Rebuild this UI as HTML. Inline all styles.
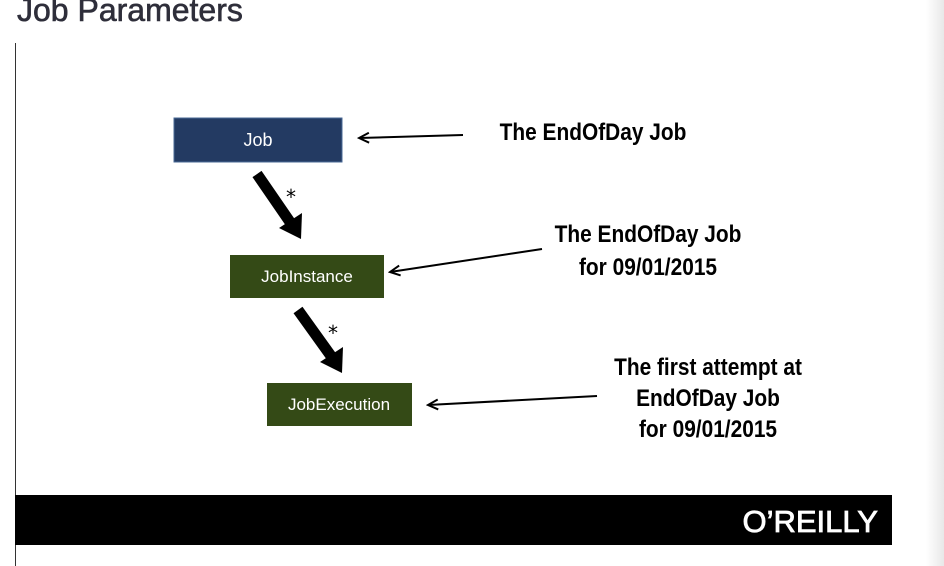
<!DOCTYPE html>
<html><head><meta charset="utf-8"><style>
html,body{margin:0;padding:0;background:#fff;width:944px;height:566px;overflow:hidden}
</style></head><body>
<svg width="944" height="566" viewBox="0 0 944 566" xmlns="http://www.w3.org/2000/svg">
<defs>
<linearGradient id="g" x1="0" x2="1"><stop offset="0" stop-color="#fff"/><stop offset="1" stop-color="#e8e8e8"/></linearGradient>
<marker id="a" markerWidth="14" markerHeight="14" refX="12" refY="7" orient="auto" markerUnits="userSpaceOnUse"><path d="M2 2 L12 7 L2 12" fill="none" stroke="#000" stroke-width="2"/></marker>
</defs>
<rect x="926" y="0" width="18" height="566" fill="url(#g)"/>
<text x="17" y="21" font-family="Liberation Sans, sans-serif" font-size="32" fill="#2e2e3a" stroke="#2e2e3a" stroke-width="0.6">Job Parameters</text>
<line x1="15.5" y1="43" x2="15.5" y2="566" stroke="#333" stroke-width="1"/>
<rect x="174" y="118" width="168" height="44" fill="#233a62" stroke="#4a6a96" stroke-width="1"/>
<text x="258" y="146" text-anchor="middle" font-family="Liberation Sans, sans-serif" font-size="18" fill="#fff">Job</text>
<rect x="230" y="255" width="154" height="43" fill="#344a16"/>
<text x="307" y="282" text-anchor="middle" font-family="Liberation Sans, sans-serif" font-size="17" fill="#fff">JobInstance</text>
<rect x="267" y="383" width="145" height="43" fill="#344a16"/>
<text x="339" y="410" text-anchor="middle" font-family="Liberation Sans, sans-serif" font-size="17" fill="#fff">JobExecution</text>
<line x1="257" y1="174" x2="290" y2="222" stroke="#000" stroke-width="11"/>
<polygon points="279,228 302,213 301,239" fill="#000"/>
<text x="291" y="204" text-anchor="middle" font-family="DejaVu Sans, sans-serif" font-size="20" fill="#000">*</text>
<line x1="298" y1="310" x2="331" y2="356" stroke="#000" stroke-width="11"/>
<polygon points="320,362 343,347 342,373" fill="#000"/>
<text x="333" y="340" text-anchor="middle" font-family="DejaVu Sans, sans-serif" font-size="20" fill="#000">*</text>
<line x1="463" y1="135" x2="359" y2="138" stroke="#000" stroke-width="2" marker-end="url(#a)"/>
<line x1="542" y1="249" x2="390" y2="272" stroke="#000" stroke-width="2" marker-end="url(#a)"/>
<line x1="597" y1="396" x2="428" y2="405" stroke="#000" stroke-width="2" marker-end="url(#a)"/>
<g font-family="Liberation Sans, sans-serif" font-weight="bold" font-size="24" fill="#000" text-anchor="middle">
<text transform="translate(593 140) scale(0.87 1)">The EndOfDay Job</text>
<text transform="translate(648 242) scale(0.87 1)">The EndOfDay Job</text>
<text transform="translate(648 275) scale(0.87 1)">for 09/01/2015</text>
<text transform="translate(708 375) scale(0.87 1)">The first attempt at</text>
<text transform="translate(708 406) scale(0.87 1)">EndOfDay Job</text>
<text transform="translate(708 437) scale(0.87 1)">for 09/01/2015</text>
</g>
<rect x="15" y="495" width="877" height="50" fill="#000"/>
<text x="878" y="532" text-anchor="end" font-family="Liberation Sans, sans-serif" font-size="31" fill="#fff" stroke="#fff" stroke-width="0.8">O’REILLY</text>
</svg>
</body></html>
